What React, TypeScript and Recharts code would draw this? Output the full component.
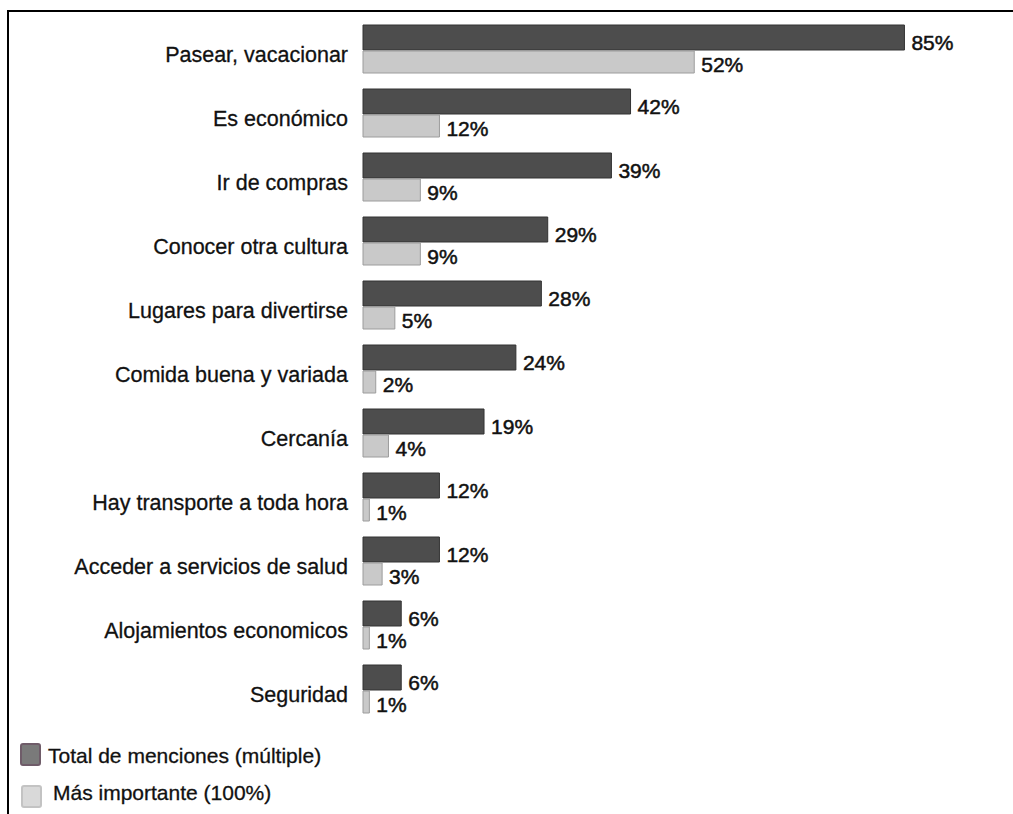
import React from "react";
import { BarChart, Bar, XAxis, YAxis, LabelList } from "recharts";

const categories = [
  "Pasear, vacacionar",
  "Es económico",
  "Ir de compras",
  "Conocer otra cultura",
  "Lugares para divertirse",
  "Comida buena y variada",
  "Cercanía",
  "Hay transporte a toda hora",
  "Acceder a servicios de salud",
  "Alojamientos economicos",
  "Seguridad",
];
const totalMenciones = [85, 42, 39, 29, 28, 24, 19, 12, 12, 6, 6];
const masImportante = [52, 12, 9, 9, 5, 2, 4, 1, 3, 1, 1];

const data = categories.map((name, i) => ({
  name,
  total: totalMenciones[i],
  importante: masImportante[i],
}));

const FONT = '"Liberation Sans", Arial, sans-serif';

function CategoryTick({ x, y, payload }: any) {
  return (
    <text
      x={x}
      y={y + 12.5}
      textAnchor="end"
      fontSize={21.5}
      fill="#111"
      stroke="#111"
      strokeWidth={0.3}
      fontFamily={FONT}
    >
      {payload.value}
    </text>
  );
}

function ValueLabel(offsetY: number) {
  return function Label({ x, y, width, height, value }: any) {
    return (
      <text
        x={x + width + 7}
        y={y + height + offsetY}
        fontSize={21}
        fill="#111"
        stroke="#111"
        strokeWidth={0.5}
        fontFamily={FONT}
      >
        {value}%
      </text>
    );
  };
}

export default function App() {
  return (
    <div
      style={{
        position: "absolute",
        left: 0,
        top: 0,
        width: 1013,
        height: 814,
        overflow: "hidden",
        background: "#fff",
        fontFamily: FONT,
      }}
    >
      <div
        style={{
          position: "absolute",
          left: 7,
          top: 10,
          width: 1020,
          height: 900,
          borderTop: "2px solid #000",
          borderLeft: "2px solid #000",
        }}
      />
      <div style={{ position: "absolute", left: 0, top: 0 }}>
        <BarChart
          width={1013}
          height={740}
          data={data}
          layout="vertical"
          margin={{ top: 17, right: 13, bottom: 19, left: 0 }}
          barGap={1}
        >
          <XAxis type="number" domain={[0, 100]} hide />
          <YAxis
            type="category"
            dataKey="name"
            width={363}
            axisLine={false}
            tickLine={false}
            tickMargin={9}
            tick={<CategoryTick />}
            interval={0}
          />
          <Bar
            dataKey="total"
            barSize={25}
            fill="#4d4d4d"
            stroke="#333"
            strokeWidth={1}
            isAnimationActive={false}
          >
            <LabelList dataKey="total" content={ValueLabel(0)} />
          </Bar>
          <Bar
            dataKey="importante"
            barSize={22}
            fill="#c9c9c9"
            stroke="#9c9c9c"
            strokeWidth={1}
            isAnimationActive={false}
          >
            <LabelList dataKey="importante" content={ValueLabel(-1)} />
          </Bar>
        </BarChart>
      </div>
      <div
        style={{
          position: "absolute",
          left: 20,
          top: 743,
          width: 17,
          height: 19,
          background: "#7a7a7a",
          border: "2px solid #6f5c69",
          borderRadius: 3,
        }}
      />
      <div
        style={{
          position: "absolute",
          left: 48,
          top: 745,
          fontSize: 21,
          lineHeight: "21px",
          color: "#111",
          whiteSpace: "nowrap",
          WebkitTextStroke: "0.3px #111",
        }}
      >
        Total de menciones (múltiple)
      </div>
      <div
        style={{
          position: "absolute",
          left: 21,
          top: 785,
          width: 17,
          height: 19,
          background: "#d9d9d9",
          border: "2px solid #c3c3c3",
          borderRadius: 3,
        }}
      />
      <div
        style={{
          position: "absolute",
          left: 53,
          top: 782,
          fontSize: 21,
          lineHeight: "21px",
          color: "#111",
          whiteSpace: "nowrap",
          WebkitTextStroke: "0.3px #111",
        }}
      >
        Más importante (100%)
      </div>
    </div>
  );
}
